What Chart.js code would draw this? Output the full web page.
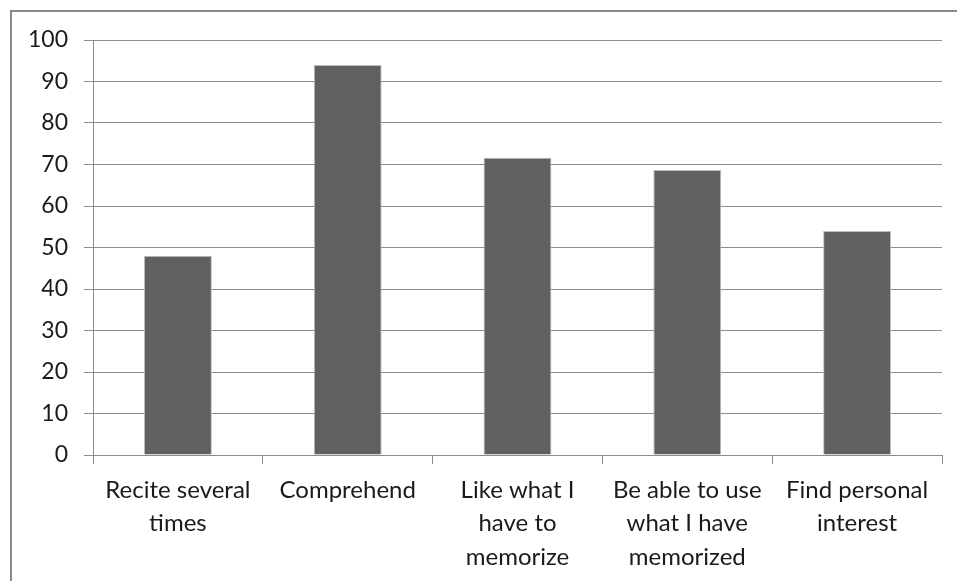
<!DOCTYPE html>
<html>
<head>
<meta charset="utf-8">
<script src="https://cdn.jsdelivr.net/npm/chart.js@4/dist/chart.umd.min.js"></script>
<style>
  html, body { margin: 0; padding: 0; background: #fff; overflow: hidden; }
  #frame {
    position: absolute; left: 10px; top: 10px;
    width: 1000px; height: 700px;
    border: 2px solid #8a8a8a;
  }
  #wrap { position: absolute; left: 0; top: 0; width: 957px; height: 581px; }
</style>
</head>
<body>
<div id="frame"></div>
<div id="wrap"><canvas id="memChart" width="957" height="581"></canvas></div>
<script>
// Memorization strategies, percentage of answers
const CATEGORIES = [
  ["Recite several", "times"],
  ["Comprehend"],
  ["Like what I", "have to", "memorize"],
  ["Be able to use", "what I have", "memorized"],
  ["Find personal", "interest"],
];
const VALUES = [48, 94, 71.6, 68.7, 54];
const Y_MIN = 0, Y_MAX = 100, Y_STEP = 10;

const FONT = "Lato, 'Open Sans', sans-serif";
const AXIS_GREY = "#8c8c8c";

new Chart(document.getElementById("memChart").getContext("2d"), {
  type: "bar",
  data: {
    labels: CATEGORIES,
    datasets: [{
      data: VALUES,
      backgroundColor: "#606060",
      borderColor: "#bdbdbd",
      borderWidth: 1,
      barPercentage: 0.4,
      categoryPercentage: 1,
    }],
  },
  options: {
    responsive: false,
    animation: false,
    layout: { padding: { left: 0, right: 15, top: 40, bottom: 0 } },
    plugins: { legend: { display: false }, tooltip: { enabled: false } },
    scales: {
      x: {
        offset: true,
        grid: {
          offset: true,
          drawOnChartArea: false,
          drawTicks: true,
          tickLength: 9,
          color: AXIS_GREY,
          lineWidth: 1,
        },
        border: { color: AXIS_GREY, width: 1 },
        ticks: {
          color: "#1a1a1a",
          font: { family: FONT, size: 24, lineHeight: 1.38 },
          padding: 10,
          maxRotation: 0,
          autoSkip: false,
        },
        afterFit: s => { s.height = 126; },
      },
      y: {
        min: Y_MIN,
        max: Y_MAX,
        grid: { color: AXIS_GREY, lineWidth: 1, tickLength: 9 },
        border: { color: AXIS_GREY, width: 1 },
        ticks: {
          stepSize: Y_STEP,
          color: "#1a1a1a",
          font: { family: FONT, size: 23 },
          padding: 16,
        },
        afterFit: s => { s.width = 93; },
      },
    },
  },
});
</script>
</body>
</html>
